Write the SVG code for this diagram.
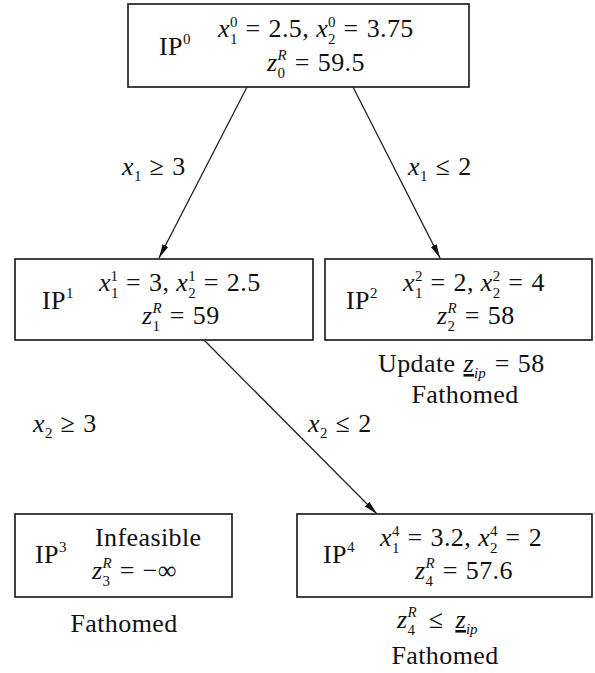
<svg xmlns="http://www.w3.org/2000/svg" width="595" height="673" viewBox="0 0 595 673">
<defs>
<style>
.box{fill:#fff;stroke:#222;stroke-width:1.7}
.t{font-family:"Liberation Serif","DejaVu Serif",serif;font-size:26px;letter-spacing:0.4px;fill:#111}
.i{font-style:italic}
.s{font-size:15px;letter-spacing:0}
.e{stroke:#222;stroke-width:1.3;fill:none}
</style>
<marker id="ah" viewBox="0 0 14 8" refX="14" refY="4" markerWidth="14" markerHeight="8" markerUnits="userSpaceOnUse" orient="auto">
<path d="M0,0.8 L14,4 L0,7.2 Z" fill="#111"/>
</marker>
</defs>
<rect width="595" height="673" fill="#fff"/>
<g id="connectors">
<line class="e" x1="247" y1="87" x2="159" y2="258" marker-end="url(#ah)"/>
<line class="e" x1="353" y1="87" x2="440" y2="258" marker-end="url(#ah)"/>
<line class="e" x1="204" y1="340" x2="377" y2="514" marker-end="url(#ah)"/>
<text class="t" x="122" y="175"><tspan class="i">x</tspan><tspan class="s" dy="6">1</tspan><tspan dy="-6" dx="8">≥</tspan><tspan dx="8">3</tspan></text>
<text class="t" x="408" y="175"><tspan class="i">x</tspan><tspan class="s" dy="6">1</tspan><tspan dy="-6" dx="8">≤</tspan><tspan dx="8">2</tspan></text>
<text class="t" x="33" y="432"><tspan class="i">x</tspan><tspan class="s" dy="6">2</tspan><tspan dy="-6" dx="8">≥</tspan><tspan dx="8">3</tspan></text>
<text class="t" x="308" y="432"><tspan class="i">x</tspan><tspan class="s" dy="6">2</tspan><tspan dy="-6" dx="8">≤</tspan><tspan dx="8">2</tspan></text>
</g>
<g id="IP0">
<rect class="box" x="128" y="4" width="341" height="83"/>
<text class="t" x="159" y="55">IP<tspan class="s" dy="-11">0</tspan></text>
<text class="t" x="218" y="37"><tspan class="i">x</tspan><tspan class="s" dy="7">1</tspan><tspan class="s" dx="-7.5" dy="-17">0</tspan><tspan dy="10" dx="8">=</tspan><tspan dx="8">2.5,</tspan><tspan dx="7" class="i">x</tspan><tspan class="s" dy="7">2</tspan><tspan class="s" dx="-7.5" dy="-17">0</tspan><tspan dy="10" dx="8">=</tspan><tspan dx="8">3.75</tspan></text>
<text class="t" x="267" y="71"><tspan class="i">z</tspan><tspan class="s" dy="7">0</tspan><tspan class="s i" dx="-7.5" dy="-18">R</tspan><tspan dy="11" dx="8">=</tspan><tspan dx="8">59.5</tspan></text>
</g>
<g id="IP1">
<rect class="box" x="15" y="259" width="298" height="81"/>
<text class="t" x="42" y="309">IP<tspan class="s" dy="-11">1</tspan></text>
<text class="t" x="99" y="291"><tspan class="i">x</tspan><tspan class="s" dy="7">1</tspan><tspan class="s" dx="-7.5" dy="-17">1</tspan><tspan dy="10" dx="8">=</tspan><tspan dx="8">3,</tspan><tspan dx="7" class="i">x</tspan><tspan class="s" dy="7">2</tspan><tspan class="s" dx="-7.5" dy="-17">1</tspan><tspan dy="10" dx="8">=</tspan><tspan dx="8">2.5</tspan></text>
<text class="t" x="142" y="324"><tspan class="i">z</tspan><tspan class="s" dy="7">1</tspan><tspan class="s i" dx="-7.5" dy="-18">R</tspan><tspan dy="11" dx="8">=</tspan><tspan dx="8">59</tspan></text>
</g>
<g id="IP2">
<rect class="box" x="325" y="259" width="267" height="81"/>
<text class="t" x="346" y="309">IP<tspan class="s" dy="-11">2</tspan></text>
<text class="t" x="403" y="291"><tspan class="i">x</tspan><tspan class="s" dy="7">1</tspan><tspan class="s" dx="-7.5" dy="-17">2</tspan><tspan dy="10" dx="8">=</tspan><tspan dx="8">2,</tspan><tspan dx="7" class="i">x</tspan><tspan class="s" dy="7">2</tspan><tspan class="s" dx="-7.5" dy="-17">2</tspan><tspan dy="10" dx="8">=</tspan><tspan dx="8">4</tspan></text>
<text class="t" x="437" y="324"><tspan class="i">z</tspan><tspan class="s" dy="7">2</tspan><tspan class="s i" dx="-7.5" dy="-18">R</tspan><tspan dy="11" dx="8">=</tspan><tspan dx="8">58</tspan></text>
<text class="t" x="378" y="372">Update<tspan dx="8" class="i" text-decoration="underline">z</tspan><tspan class="s i" dy="6">ip</tspan><tspan dy="-6" dx="9">=</tspan><tspan dx="8">58</tspan></text>
<text class="t" x="465" y="403" text-anchor="middle">Fathomed</text>
</g>
<g id="IP3">
<rect class="box" x="15" y="514" width="217" height="83"/>
<text class="t" x="35" y="563">IP<tspan class="s" dy="-11">3</tspan></text>
<text class="t" x="95" y="546">Infeasible</text>
<text class="t" x="92" y="579"><tspan class="i">z</tspan><tspan class="s" dy="7">3</tspan><tspan class="s i" dx="-7.5" dy="-18">R</tspan><tspan dy="11" dx="8">=</tspan><tspan dx="8">−∞</tspan></text>
<text class="t" x="124" y="632" text-anchor="middle">Fathomed</text>
</g>
<g id="IP4">
<rect class="box" x="297" y="514" width="295" height="83"/>
<text class="t" x="323" y="563">IP<tspan class="s" dy="-11">4</tspan></text>
<text class="t" x="380" y="546"><tspan class="i">x</tspan><tspan class="s" dy="7">1</tspan><tspan class="s" dx="-7.5" dy="-17">4</tspan><tspan dy="10" dx="8">=</tspan><tspan dx="8">3.2,</tspan><tspan dx="7" class="i">x</tspan><tspan class="s" dy="7">2</tspan><tspan class="s" dx="-7.5" dy="-17">4</tspan><tspan dy="10" dx="8">=</tspan><tspan dx="8">2</tspan></text>
<text class="t" x="415" y="579"><tspan class="i">z</tspan><tspan class="s" dy="7">4</tspan><tspan class="s i" dx="-7.5" dy="-18">R</tspan><tspan dy="11" dx="8">=</tspan><tspan dx="8">57.6</tspan></text>
<text class="t" x="397" y="628"><tspan class="i">z</tspan><tspan class="s" dy="7">4</tspan><tspan class="s i" dx="-7.5" dy="-18">R</tspan><tspan dy="11" dx="12">≤</tspan><tspan dx="12" class="i" text-decoration="underline">z</tspan><tspan class="s i" dy="6">ip</tspan></text>
<text class="t" x="445" y="664" text-anchor="middle">Fathomed</text>
</g>
</svg>
